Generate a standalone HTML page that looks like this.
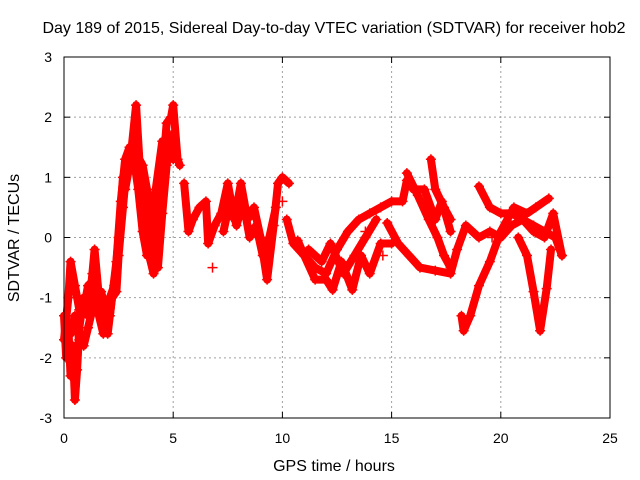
<!DOCTYPE html>
<html><head><meta charset="utf-8"><style>
html,body{margin:0;padding:0;background:#fff}
svg{display:block;font-family:"Liberation Sans",sans-serif}
</style></head><body>
<svg id="chart" width="640" height="480" viewBox="0 0 640 480" xmlns="http://www.w3.org/2000/svg">
<rect width="640" height="480" fill="#fff"/>
<text x="334" y="33" font-size="16" text-anchor="middle">Day 189 of 2015, Sidereal Day-to-day VTEC variation (SDTVAR) for receiver hob2</text>
<text x="334" y="471" font-size="16" text-anchor="middle">GPS time / hours</text>
<text transform="translate(19,238) rotate(-90)" font-size="16" text-anchor="middle">SDTVAR / TECUs</text>
<g id="grid"></g>
<g id="ticks"></g>
<g id="marks"></g>
<rect x="64" y="57" width="546" height="361" fill="none" stroke="#000" stroke-width="1"/>
</svg>
<script>
const xTicks=[0,5,10,15,20,25];
const yTicks=[-3,-2,-1,0,1,2,3];
const trackA=[[0,-1.3],[0.1,-2.0],[0.2,-1.5],[0.3,-2.3],[0.4,-1.8],[0.5,-2.7],[0.6,-2.2],[0.7,-1.5],[0.9,-1.0],[1.1,-1.3],[1.3,-0.6],[1.4,-0.2],[1.6,-1.0],[1.8,-1.3],[2.0,-1.6],[2.2,-1.0],[2.4,-0.9],[2.5,-0.3],[2.7,0.5],[2.9,1.3],[3.1,1.5],[3.3,2.2],[3.5,1.0],[3.7,0.4],[3.9,-0.3],[4.1,-0.6],[4.3,0.2],[4.5,1.0],[4.7,1.9],[4.9,2.0],[5.0,2.2],[5.2,1.3],[5.3,1.2]];
const trackB=[[0,-1.7],[0.2,-1.0],[0.3,-0.4],[0.5,-0.8],[0.7,-1.2],[0.9,-1.2],[1.1,-0.8],[1.4,-0.7],[1.6,-1.3],[1.8,-1.6],[2.1,-1.3],[2.4,-0.4],[2.6,0.6],[2.8,1.3],[3.0,1.5],[3.2,1.3],[3.4,0.8],[3.6,0.1],[3.8,-0.3],[4.0,0.0],[4.2,0.8],[4.5,1.6],[4.8,1.5],[5.0,1.3]];
const trackC=[[2.8,0.8],[3.0,1.2],[3.3,1.4],[3.6,1.2],[3.9,0.6],[4.1,-0.2],[4.3,-0.5],[4.5,0.4],[4.7,1.2],[4.9,1.7],[5.1,1.5]];
const trackC2=[[0.1,-1.4],[0.3,-1.6],[0.5,-1.3],[0.7,-1.7],[0.9,-1.8],[1.1,-1.5],[1.3,-1.2],[1.5,-1.0],[1.7,-0.9],[1.9,-1.2],[2.1,-1.0],[2.3,-0.8],[2.5,0.0],[2.7,1.0],[3.0,1.4]];
const trackD=[[5.5,0.9],[5.7,0.1],[5.9,0.3],[6.2,0.5],[6.5,0.6],[6.6,-0.1],[6.9,0.2],[7.2,0.4],[7.5,0.9],[7.8,0.3],[8.1,0.9],[8.4,0.3],[8.7,0.5],[9.0,0.0],[9.3,-0.7],[9.6,0.2],[9.8,0.9],[10.0,1.0],[10.3,0.9]];
const trackD2=[[7.3,0.1],[7.6,0.6],[7.9,0.2],[8.2,0.6],[8.5,0.0],[8.8,0.2],[9.1,-0.3],[9.4,0.0],[9.7,0.5]];
const trackE=[[10.2,0.3],[10.5,-0.1],[11,-0.3],[11.5,-0.5],[12,-0.6],[12.5,-0.2],[13,0.1],[13.5,0.3],[14,0.4],[14.5,0.5],[15,0.6],[15.5,0.6],[15.7,0.95],[16,0.8],[16.5,0.8],[17,0.3],[17.3,0.6],[17.7,0.1]];
const trackF=[[10.7,-0.05],[11,-0.3],[11.5,-0.7],[12,-0.7],[12.3,-0.87],[12.7,-0.4],[13.2,-0.87],[13.6,-0.3],[14,-0.6],[14.5,-0.1],[15,-0.1]];
const trackF2=[[11.2,-0.2],[11.8,-0.4],[12.2,-0.1],[12.8,-0.6],[13.3,-0.3],[13.8,0.0],[14.3,0.3]];
const trackG=[[14.8,0.24],[15.3,-0.1],[15.8,-0.3],[16.3,-0.5],[17,-0.55],[17.7,-0.6],[18.0,-0.2],[18.4,0.2],[19,0.0],[19.5,0.1],[20,0.0],[20.5,0.2],[21,0.3],[21.5,0.2],[22,0.1],[22.5,0.0],[22.8,-0.3]];
const trackH=[[15.7,1.07],[16.2,0.7],[16.7,0.3],[17.1,0.0],[17.4,-0.3],[17.7,-0.5]];
const trackI=[[16.8,1.3],[17.0,0.8],[17.4,0.5],[17.7,0.3]];
const trackJ=[[19.0,0.85],[19.5,0.5],[20,0.4],[20.5,0.4],[21,0.3],[21.5,0.1],[22,0.0],[22.4,0.4],[22.8,-0.3]];
const trackK=[[18.2,-1.3],[18.3,-1.55],[18.6,-1.3],[19,-0.8],[19.5,-0.4],[20,0.1],[20.6,0.5],[21.2,0.4],[21.6,0.5],[22.2,0.65]];
const trackL=[[20.8,0.0],[21.2,-0.3],[21.5,-0.9],[21.8,-1.55],[22.1,-0.85],[22.3,-0.2]];
const trackM=[[14.6,-0.3],[13.8,0.1],[19.6,0.0],[6.8,-0.5],[10.0,0.6]];
const tracks=[trackA,trackB,trackC,trackC2,trackD,trackD2,trackE,trackF,trackF2,trackG,trackH,trackI,trackJ,trackK,trackL];
const isolated=trackM;

const X0=64,X1=610,Y0=418,Y1=57;
function xs(h){return X0+(h-0)/(25-0)*(X1-X0);}
function ys(v){return Y0-(v+3)/6*(Y0-Y1);}
const NS="http://www.w3.org/2000/svg";
const grid=document.getElementById('grid'),ticks=document.getElementById('ticks'),marks=document.getElementById('marks');
function mk(tag,attrs,parent){const e=document.createElementNS(NS,tag);for(const k in attrs)e.setAttribute(k,attrs[k]);parent.appendChild(e);return e;}
xTicks.forEach(t=>{const x=xs(t);
 if(t>0&&t<25){const g=mk('line',{x1:x,x2:x,y1:Y0,y2:Y1,stroke:'#a0a0a0','stroke-dasharray':'2,3'},grid);
 
 }
 mk('line',{x1:x,x2:x,y1:Y0,y2:Y0-6,stroke:'#000'},ticks);
 mk('line',{x1:x,x2:x,y1:Y1,y2:Y1+6,stroke:'#000'},ticks);
 const l=mk('text',{x:x,y:443,'font-size':14,'text-anchor':'middle'},ticks);l.textContent=t;
 
 
});
yTicks.forEach(t=>{const y=ys(t);
 if(t>-3&&t<3){const g=mk('line',{x1:X0,x2:X1,y1:y,y2:y,stroke:'#a0a0a0','stroke-dasharray':'2,3'},grid);
 
 }
 mk('line',{x1:X0,x2:X0+6,y1:y,y2:y,stroke:'#000'},ticks);
 mk('line',{x1:X1,x2:X1-6,y1:y,y2:y,stroke:'#000'},ticks);
 const l=mk('text',{x:52,y:y+5,'font-size':14,'text-anchor':'end'},ticks);l.textContent=t;
 
 
});
function plus(x,y){const p=mk('path',{d:`M${x-5},${y}h10M${x},${y-5}v10`,stroke:'#f00','stroke-width':1.5,fill:'none'},marks);
 
 }
tracks.forEach(tr=>{
 const pl=mk('polyline',{points:tr.map(p=>xs(p[0])+','+ys(p[1])).join(' '),fill:'none',stroke:'#f00','stroke-width':8,'stroke-linejoin':'round','stroke-linecap':'round'},marks);
 
 
 tr.forEach(p=>plus(xs(p[0]),ys(p[1])));
});
isolated.forEach(p=>plus(xs(p[0]),ys(p[1])));
</script>
</body></html>
